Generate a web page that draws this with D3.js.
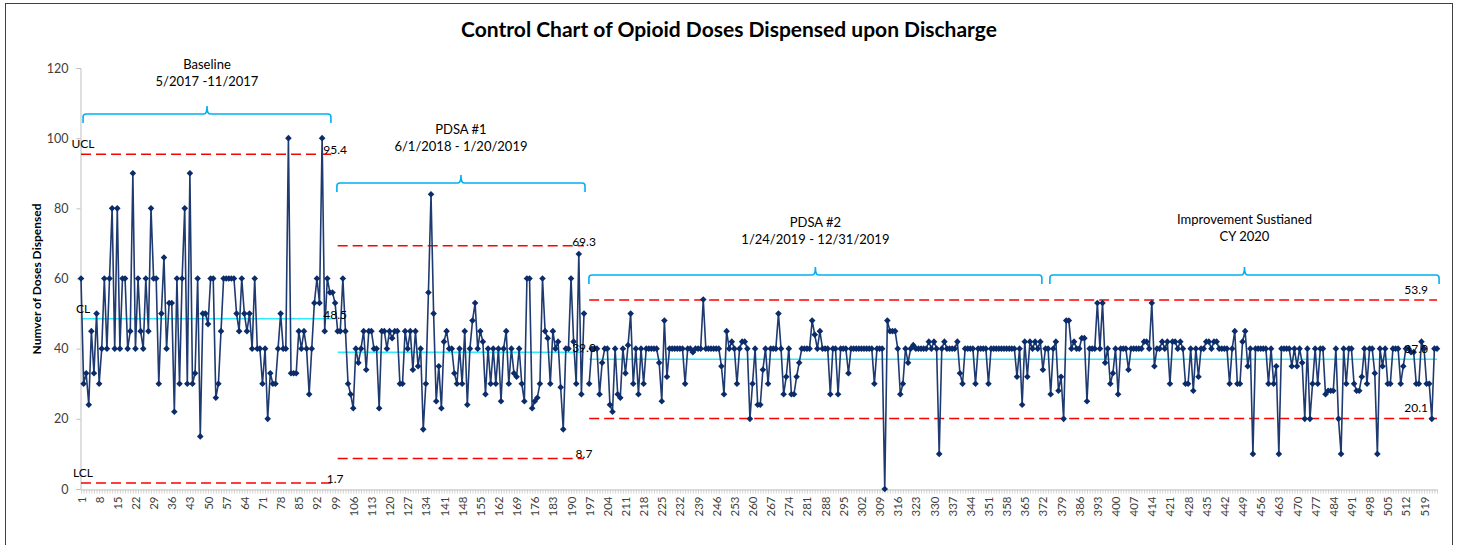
<!DOCTYPE html>
<html><head><meta charset="utf-8">
<script src="https://cdn.jsdelivr.net/npm/d3@7"></script>
<style>
html,body{margin:0;padding:0;background:#fff;}
svg{display:block;font-family:Lato,'Open Sans',sans-serif;}
</style></head><body>
<svg id="chart" width="1460" height="545"></svg>
<script>
// ---------------- DATA ----------------
const chartTitle = "Control Chart of Opioid Doses Dispensed upon Discharge";
const yTitle = "Numver of Doses Dispensed";

// doses per case, categories 1..99
const baselineDoses = [60,30,33,24,45,33,50,30,40,60, 40,60,80,40,80,40,60,60,40,45,
  90,40,60,45,40,60,45,80,60,60, 30,50,66,40,53,53,22,60,30,60, 80,30,90,30,33,60,15,50,50,47,
  60,60,26,30,45,60,60,60,60,60, 50,45,60,50,45,50,40,60,40,40, 30,40,20,33,30,30,40,50,40,40,
  100,33,33,33,45,40,45,40,27,40, 53,60,53,100,45,60,56,56,53];
// categories 100..195
const pdsa1Doses = [45,
  45,60,45,30,27,23,40,36,40,45, 34,45,45,40,40,23,45,45,40,45, 43,45,45,30,30,45,40,45,34,45,
  35,40,17,30,56,84,50,25,35,23, 42,45,40,40,33,30,40,30,45,24, 40,48,53,40,45,42,27,40,30,40,
  30,40,25,
  40,45,30,40,33,32,40,30,25,60, 60,23,25,26,30,60,45,43,30,45, 40,42,29,17,40,40,60,42,30,67,
  27,50];
// categories 196..373 (196 has no value)
const pdsa2Doses = [null,
  30,40,40,40,27,36,40,40,24,22, 40,27,26,40,33,41,50,30,40,27, 40,30,40,40,
  40,40,40,36,25,48,32,40,40,40, 40,40,40,30,40,40,39,40,40,40, 54,40,40,40,40,40,40,35,27,45,
  40,42,40,30,40,42,42,40,20,30, 40,24,24,34,40,30,40,40,40,50, 40,27,32,40,27,27,32,36,
  40,40,40,40,48,44,40,45,40,40, 40,27,40,40,27,40,40,40,33,40, 40,40,40,40,40,40,40,40,30,40,
  40,40,0,
  48,45,45,45,40,27,30,40,36,40, 41,40,40,40,40,40,42,40,42,40, 10,40,42,40,40,
  40,40,42,33,30,40,40,40,40,30, 40,40,40,40,30,40,40,40,40,40, 40,40,40,40,40,32,40,24,42,32,
  42,40,42,40,42,34,40];
// categories 374..524
const sustainedDoses = [40,27,40,42,28,32,20,48,48,40, 42,40,40,43,43,25,40,40,40,53,
  40,53,36,40,30,33,40,27,40,40, 40,34,40,40,40,40,40,42,42,40, 53,35,40,40,42,40,42,30,42,42,
  40,42,40,30,30,40,28,40,32,40, 40,42,42,40,42,42,40,40,40,40, 30,40,45,30,30,42,45,35,40,10,
  40,40,40,40,40,30,40,30,35,10, 40,40,40,40,35,40,35,40,36,20, 40,20,30,40,30,40,40,27,28,28,
  28,40,20,10,40,30,40,40,30,28, 28,32,40,30,40,40,33,10,40,35, 40,30,30,40,40,40,30,35,40,40,
  39,39,30,30,42,40,30,30,20,40, 40];

const phaseNames = ["Baseline", "PDSA #1", "PDSA #2", "Improvement Sustianed"];
const phaseDates = ["5/2017 -11/2017", "6/1/2018 - 1/20/2019", "1/24/2019 - 12/31/2019", "CY 2020"];
const phaseFrom = [1.8, 99.7, 196.9, 374.7];   // brace extent, category units
const phaseTo   = [97.4, 195.4, 371.6, 524.8];

const limitFrom = [1, 100, 197];
const limitTo   = [99, 195, 524];
const uclValues = [95.4, 69.3, 53.9];
const clValues  = [48.5, 39.0, 37.0];
const lclValues = [1.7, 8.7, 20.1];

const yTickValues = [0, 20, 40, 60, 80, 100, 120];
const xTickLabels = [1,8,15,22,29,36,43,50,57,64,71,78,85,92,99,106,113,120,127,134,141,148,155,162,
  169,176,183,190,197,204,211,218,225,232,239,246,253,260,267,274,281,288,295,302,309,316,323,330,
  337,344,351,358,365,372,379,386,393,400,407,414,421,428,435,442,449,456,463,470,477,484,491,498,
  505,512,519];

// ---------------- BUILD ----------------
const doses = [].concat(baselineDoses, pdsa1Doses, pdsa2Doses, sustainedDoses);
const categories = d3.range(1, doses.length + 1);
const points = categories.map((c, i) => ({c, v: doses[i]}));

const svg = d3.select("#chart");

const x = d3.scaleLinear().domain([1, categories.length]).range([81, 1437]);
const y = d3.scaleLinear().domain([0, 120]).range([489, 68]);

// outer frame
svg.append("rect").attr("x", 5.5).attr("y", 3.5).attr("width", 1447).attr("height", 560)
  .attr("fill", "none").attr("stroke", "#404040").attr("stroke-width", 1);

// title
svg.append("text").attr("x", 729).attr("y", 37).attr("text-anchor", "middle")
  .attr("font-weight", "bold").attr("font-size", 21).attr("fill", "#000").text(chartTitle);

// y axis
const yAxis = svg.append("g").attr("transform", "translate(80.5,0)")
  .call(d3.axisLeft(y).tickValues(yTickValues).tickSize(4).tickPadding(8));
yAxis.select(".domain").attr("stroke", "#BFBFBF");
yAxis.selectAll(".tick line").attr("stroke", "#BFBFBF");
yAxis.selectAll(".tick text").attr("font-size", 12.5).attr("fill", "#404040")
  .attr("font-family", "Lato,'Open Sans',sans-serif");

svg.append("text").attr("transform", "translate(41,279) rotate(-90)")
  .attr("text-anchor", "middle").attr("font-weight", "bold").attr("font-size", 12)
  .attr("fill", "#000").text(yTitle);

// x axis
const xAxis = svg.append("g").attr("transform", "translate(0,489.5)")
  .call(d3.axisBottom(x).tickValues(categories).tickSize(4).tickSizeOuter(0)
    .tickFormat(d => xTickLabels.includes(d) ? d : ""));
xAxis.select(".domain").attr("stroke", "#BFBFBF");
xAxis.selectAll(".tick line").attr("stroke", "#BFBFBF").attr("stroke-width", 0.7);
xAxis.selectAll(".tick text")
  .attr("font-size", 11.5).attr("fill", "#404040").attr("font-family", "Lato,'Open Sans',sans-serif")
  .attr("transform", "rotate(-90)").attr("text-anchor", "end")
  .attr("x", -7).attr("y", 0).attr("dy", "0.35em");

// control limits
const limits = limitFrom.map((f, i) => ({f, t: limitTo[i], ucl: uclValues[i], cl: clValues[i], lcl: lclValues[i]}));
const lim = svg.append("g");
limits.forEach(L => {
  [L.ucl, L.lcl].forEach(v => {
    lim.append("line").attr("x1", x(L.f)).attr("x2", x(L.t)).attr("y1", y(v)).attr("y2", y(v))
      .attr("stroke", "#FF0000").attr("stroke-width", 1.5).attr("stroke-dasharray", "10,5");
  });
  lim.append("line").attr("x1", x(L.f)).attr("x2", x(L.t)).attr("y1", y(L.cl)).attr("y2", y(L.cl))
    .attr("stroke", "#2EEBFF").attr("stroke-width", 1.5);
});

// data line
svg.append("path").datum(points)
  .attr("d", d3.line().defined(d => d.v != null).x(d => x(d.c)).y(d => y(d.v)))
  .attr("fill", "none").attr("stroke", "#1F3A70").attr("stroke-width", 1.6);

// markers (diamonds)
svg.append("g").selectAll("path").data(points.filter(d => d.v != null)).join("path")
  .attr("transform", d => `translate(${x(d.c)},${y(d.v)})`)
  .attr("d", "M0,-3.3L3.3,0L0,3.3L-3.3,0Z").attr("fill", "#0B2C6A");

// limit labels
const lab = svg.append("g").attr("font-size", 12).attr("fill", "#000");
const firstL = limits[0];
[["UCL", firstL.ucl], ["CL", firstL.cl], ["LCL", firstL.lcl]].forEach(([t, v]) => {
  lab.append("text").attr("x", x(firstL.f) + 2).attr("y", y(v) - 6).attr("text-anchor", "middle").text(t);
});
limits.forEach((L, i) => {
  [L.ucl, L.cl, L.lcl].forEach(v => {
    const txt = v.toFixed(1);
    if (i < 2) {
      lab.append("text").attr("x", x(L.t)).attr("y", y(v)).attr("text-anchor", "middle").text(txt);
    } else {
      lab.append("text").attr("x", x(L.t) - 9).attr("y", y(v) - 6).attr("text-anchor", "end").text(txt);
    }
  });
});

// phase braces
const braceY = [114, 183, 275, 275];
const nameY = [69, 134, 227, 224];
const br = svg.append("g");
phaseNames.forEach((n, i) => {
  const xa = x(phaseFrom[i]), xb = x(phaseTo[i]), xm = (xa + xb) / 2, yb = braceY[i];
  const p = `M${xa},${yb + 9} L${xa},${yb + 3} Q${xa},${yb} ${xa + 3},${yb} L${xm - 3},${yb} Q${xm},${yb} ${xm},${yb - 8} Q${xm},${yb} ${xm + 3},${yb} L${xb - 3},${yb} Q${xb},${yb} ${xb},${yb + 3} L${xb},${yb + 9}`;
  br.append("path").attr("d", p).attr("fill", "none").attr("stroke", "#00B0F0").attr("stroke-width", 1.6);
  br.append("text").attr("x", xm).attr("y", nameY[i]).attr("text-anchor", "middle")
    .attr("font-size", 13).attr("fill", "#000").text(n);
  br.append("text").attr("x", xm).attr("y", nameY[i] + 17).attr("text-anchor", "middle")
    .attr("font-size", 13).attr("fill", "#000").text(phaseDates[i]);
});
</script>
</body></html>
